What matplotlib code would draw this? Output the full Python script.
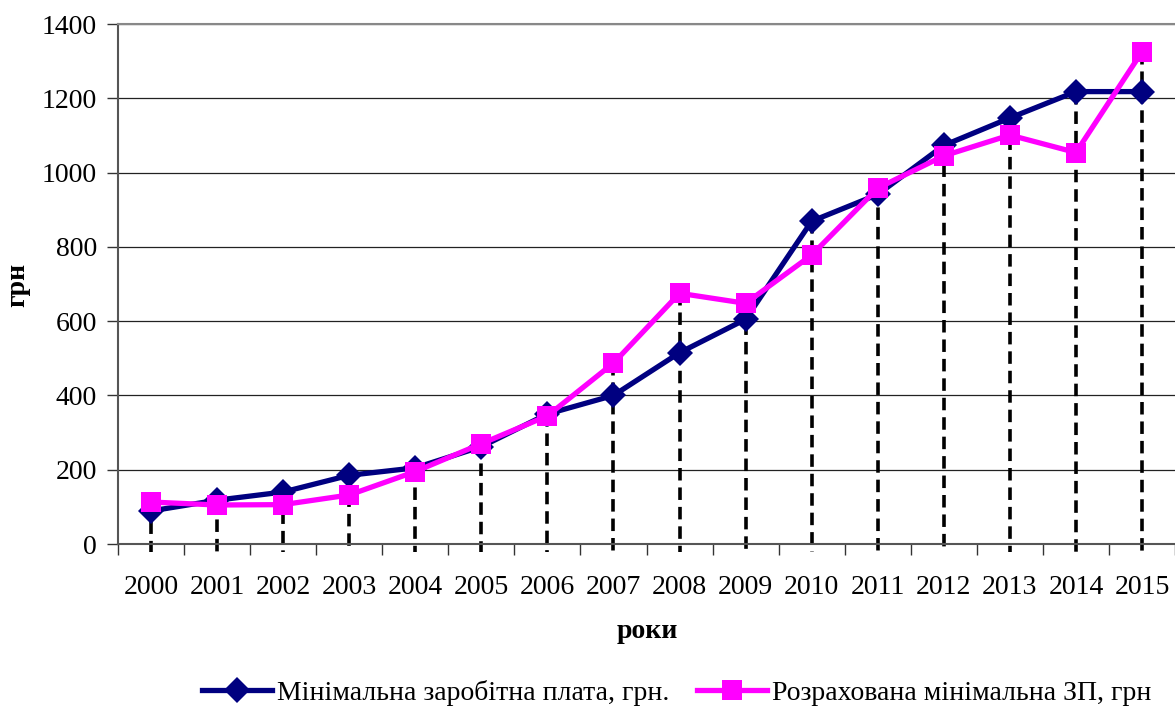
import matplotlib
matplotlib.use("Agg")
import matplotlib.pyplot as plt
import numpy as np

years = ["2000", "2001", "2002", "2003", "2004", "2005", "2006", "2007",
         "2008", "2009", "2010", "2011", "2012", "2013", "2014", "2015"]
min_wage = [89, 118, 140, 185, 205, 262, 350, 400, 515, 605, 869, 941, 1073, 1147, 1218, 1218]
calc_wage = [113, 105, 106, 132, 195, 270, 345, 487, 675, 648, 778, 958, 1045, 1101, 1054, 1325]
yticks = [0, 200, 400, 600, 800, 1000, 1200, 1400]

label_min = "Мінімальна заробітна плата, грн."
label_calc = "Розрахована мінімальна ЗП, грн"

plt.rcParams['font.family'] = ['Liberation Serif', 'DejaVu Serif']
plt.rcParams['lines.scale_dashes'] = False

fig = plt.figure(figsize=(11.75, 7.11), dpi=100)
ax = fig.add_axes([118 / 1175, 1 - 544 / 711, (1175 - 118) / 1175, 520 / 711])

x = np.arange(len(years))

# gridlines
for yv in yticks[1:]:
    ax.axhline(yv, color="#222222", lw=0.9, zorder=1)

# drop lines
tops = np.maximum(min_wage, calc_wage)
for xi, t in zip(x, tops):
    ax.plot([xi, xi], [t, -22], color="black", lw=2.6, linestyle=(0, (9, 5)),
            zorder=2, clip_on=False)

ax.plot(x, min_wage, color="#000080", lw=3.8, marker="D", markersize=13,
        markeredgewidth=0, label=label_min, zorder=3)
ax.plot(x, calc_wage, color="#FF00FF", lw=3.8, marker="s", markersize=14,
        markeredgewidth=0, label=label_calc, zorder=4)

ax.set_xlim(-0.5, len(years) - 0.5)
ax.set_ylim(0, 1400)
ax.set_yticks(yticks)
ax.set_xticks(x)
ax.set_xticklabels(years)
ax.set_xticks(np.arange(-0.5, len(years), 1.0), minor=True)
ax.tick_params(axis="x", which="major", length=0, pad=22, labelsize=20)
ax.tick_params(axis="x", which="minor", length=8, width=1, color="#333333")
ax.tick_params(axis="y", length=8, width=1, color="#333333", labelsize=20, pad=7)

ax.spines["right"].set_visible(False)
ax.spines["top"].set_color("#888888")
ax.spines["top"].set_linewidth(1.5)
ax.spines["left"].set_color("#555555")
ax.spines["left"].set_linewidth(1.5)
ax.spines["bottom"].set_color("#555555")
ax.spines["bottom"].set_linewidth(1.5)

fig.text(647 / 1175, 1 - 632 / 711, "роки", fontsize=20, fontweight="bold",
         ha="center", va="center")
fig.text(18 / 1175, 1 - 285 / 711, "грн", fontsize=20, fontweight="bold",
         ha="center", va="center", rotation=90)

leg = fig.legend(loc="center", bbox_to_anchor=(677 / 1175, 1 - 693 / 711), ncol=2,
                 frameon=False, fontsize=20, handlelength=2.5, columnspacing=1.0,
                 handletextpad=0.2, borderaxespad=0)

fig.savefig("out.png", dpi=100)
